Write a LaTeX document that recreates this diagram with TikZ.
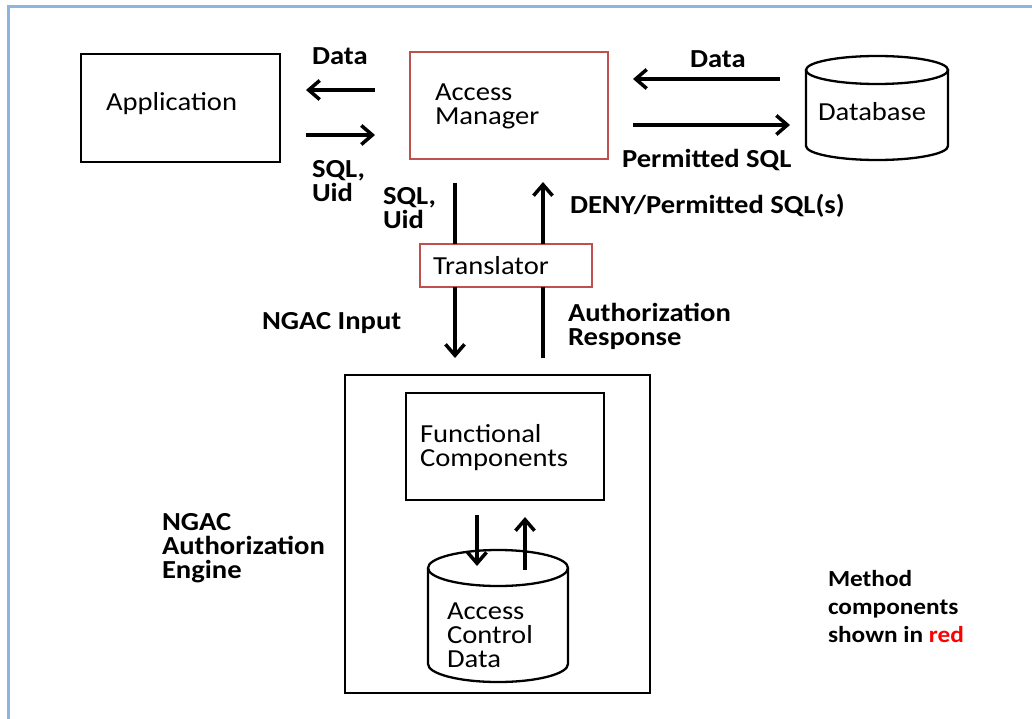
\documentclass[tikz,border=0pt]{standalone}
\usepackage{fontspec}
\setmainfont{Carlito}[FakeStretch=1.1]
\usetikzlibrary{arrows.meta}
\definecolor{method}{HTML}{C0504D}
\definecolor{framecol}{HTML}{8EB4E3}
\newcommand\rgfont{\fontsize{26}{24}\selectfont}
\newcommand\notefont{\fontsize{23}{28}\selectfont\bfseries}
\begin{document}
\begin{tikzpicture}[x=1pt,y=-1pt,
  box/.style={draw, line width=2.3pt, inner sep=0pt, outer sep=0pt},
  mbox/.style={box, draw=method},
  anchorbox/.style={inner sep=0pt, outer sep=0pt},
  % multi-line labels are placed by the baseline of their last line
  txt/.style={inner sep=0pt, outer sep=0pt, anchor=base west, align=left, font=\rgfont},
  btxt/.style={txt, font=\rgfont\bfseries},
  ntxt/.style={txt, font=\notefont},
  arr/.style={line width=3.5pt, -{Straight Barb[length=11pt,width=19pt]}},
  seg/.style={line width=3.5pt},
  cyl/.style={line width=2.3pt}
]
\useasboundingbox (0,0) rectangle (1032,719);

% page frame
\draw[framecol, line width=3pt] (8,719) -- (8,7) -- (1032,7);

% boxes
\node[box, minimum width=199pt, minimum height=108pt] (app) at (180.5,108) {};
\node[mbox, minimum width=198pt, minimum height=107pt] (am) at (509,105.5) {};
\node[mbox, minimum width=172pt, minimum height=43pt] (tr) at (506,265.5) {};
\node[box, minimum width=305pt, minimum height=318pt] (eng) at (497.5,534) {};
\node[box, minimum width=198pt, minimum height=107pt] (fc) at (505,446.5) {};

% database cylinder
\node[anchorbox, minimum width=142pt, minimum height=104pt] (db) at (877,108) {};
\draw[cyl] (877,70) ellipse[x radius=71, y radius=14];
\draw[cyl] (806,70) -- (806,146) arc[start angle=180, end angle=0, x radius=71, y radius=14] -- (948,70);

% access control data cylinder
\node[anchorbox, minimum width=140pt, minimum height=132pt] (acd) at (498,616) {};
\draw[cyl] (498,568) ellipse[x radius=70, y radius=18];
\draw[cyl] (428,568) -- (428,664) arc[start angle=180, end angle=0, x radius=70, y radius=18] -- (568,568);

% texts
\node[txt] (tapp) at (106,111) {Application};
\node[btxt] (tdata1) at (312,65) {Data};
\node[btxt] (tsql1) at (312,202) {SQL,\\Uid};
\node[txt] (tam) at (435,125) {Access\\Manager};
\node[btxt] (tdata2) at (690,68) {Data};
\node[txt] (tdb) at (818,121) {Database};
\node[btxt] (tperm) at (622,168) {Permitted SQL};
\node[btxt] (tsql2) at (383,229) {SQL,\\Uid};
\node[btxt] (tdeny) at (570,214) {DENY/Permitted SQL(s)};
\node[txt] (ttr) at (433,274) {Translator};
\node[btxt] (tin) at (262,329) {NGAC Input};
\node[btxt] (tresp) at (568,345) {Authorization\\Response};
\node[txt] (tfc) at (420,466) {Functional\\Components};
\node[txt] (tacd) at (447,667) {Access\\Control\\Data};
\node[btxt] (teng) at (162,578) {NGAC\\Authorization\\Engine};
\node[ntxt] (tnote) at (828,642) {Method\\components\\shown in \textcolor{red}{red}};

% application <-> access manager
\draw[arr] ([shift={(-35,-15.5)}]am.west) -- ([shift={(26,-18)}]app.east);
\draw[arr] ([shift={(26,27)}]app.east) -- ([shift={(-35,29.5)}]am.west);

% access manager <-> database
\draw[arr] ([shift={(-26,-29)}]db.west) -- ([shift={(25,-26.5)}]am.east);
\draw[arr] ([shift={(25,19.5)}]am.east) -- ([shift={(-16,17)}]db.west);

% access manager -> translator -> engine
\draw[seg] ([shift={(-54,24)}]am.south) -- ([shift={(-51,0)}]tr.north);
\draw[arr] ([shift={(-51,0)}]tr.south) -- ([shift={(-42.5,-17)}]eng.north);

% engine -> translator -> access manager
\draw[seg] ([shift={(45.5,-17)}]eng.north) -- ([shift={(37,0)}]tr.south);
\draw[arr] ([shift={(37,0)}]tr.north) -- ([shift={(34,23)}]am.south);

% functional components <-> access control data
\draw[arr] ([shift={(-28,15)}]fc.south) -- ([shift={(-21,16)}]acd.north);
\draw[arr] ([shift={(27,20)}]acd.north) -- ([shift={(20,17)}]fc.south);
\end{tikzpicture}
\end{document}
